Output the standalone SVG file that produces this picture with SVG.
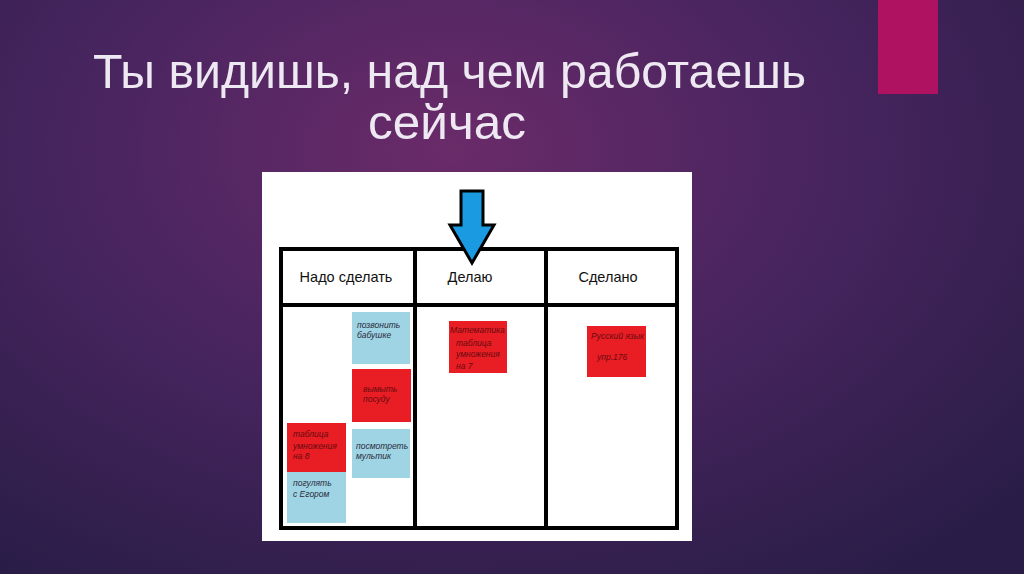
<svg xmlns="http://www.w3.org/2000/svg" width="1024" height="574" viewBox="0 0 1024 574">
<defs>
<radialGradient id="bg" cx="0.44" cy="0.26" r="0.75" gradientTransform="translate(0.44 0.26) scale(1 1.2) translate(-0.44 -0.26)">
<stop offset="0" stop-color="#6a2b69"/>
<stop offset="0.45" stop-color="#4a2560"/>
<stop offset="1" stop-color="#291d47"/>
</radialGradient>
<style>
.title{font-family:"Liberation Sans",Arial,sans-serif;font-size:48px;fill:#eee8f2}
.hdr{font-family:"Liberation Sans",Arial,sans-serif;font-size:14.5px;fill:#111;text-anchor:middle}
.note{font-family:"Liberation Sans",Arial,sans-serif;font-size:8.5px;font-style:italic;fill:#2a2a3a}
.rednote{font-family:"Liberation Sans",Arial,sans-serif;font-size:8.5px;font-style:italic;fill:#6a0a10}
.blue{fill:#9fd4e4}
.red{fill:#e81e24}
.line{stroke:#000;stroke-width:4;fill:none}
</style>
</defs>
<rect width="1024" height="574" fill="url(#bg)"/>
<rect x="878" y="0" width="60" height="94" fill="#ae1260"/>
<text class="title" x="93" y="88" textLength="713" lengthAdjust="spacingAndGlyphs">Ты видишь, над чем работаешь</text>
<text class="title" x="368" y="139" textLength="158" lengthAdjust="spacingAndGlyphs">сейчас</text>
<rect x="262" y="172" width="430" height="369" fill="#fff"/>
<g id="table">
<rect class="line" x="281" y="249" width="396" height="279" stroke-width="5"/>
<line class="line" x1="281" y1="305" x2="677" y2="305"/>
<line class="line" x1="415" y1="249" x2="415" y2="528"/>
<line class="line" x1="546" y1="249" x2="546" y2="528"/>
</g>
<g id="col-todo"><text class="hdr" x="346" y="282">Надо сделать</text></g>
<g id="col-doing"><text class="hdr" x="470" y="282">Делаю</text></g>
<g id="col-done"><text class="hdr" x="608" y="282">Сделано</text></g>
<g id="arrow">
<polygon points="461,191 483,191 483,225 494,225 472,263 450,225 461,225" fill="#1a9ae0" stroke="#000" stroke-width="3" stroke-linejoin="miter"/>
</g>
<g id="note-babushka">
<rect class="blue" x="352" y="312" width="58" height="52"/>
<text class="note" x="357" y="328">позвонить</text>
<text class="note" x="357" y="338">бабушке</text>
</g>
<g id="note-posuda">
<rect class="red" x="352" y="369" width="59" height="53"/>
<text class="rednote" x="363" y="392">вымыть</text>
<text class="rednote" x="363" y="402">посуду</text>
</g>
<g id="note-multik">
<rect class="blue" x="352" y="429" width="58" height="49"/>
<text class="note" x="356" y="449">посмотреть</text>
<text class="note" x="356" y="459">мультик</text>
</g>
<g id="note-table8">
<rect class="red" x="287" y="423" width="59" height="49"/>
<text class="rednote" x="293" y="437">таблица</text>
<text class="rednote" x="293" y="449">умножения</text>
<text class="rednote" x="293" y="459">на 8</text>
</g>
<g id="note-egor">
<rect class="blue" x="287" y="472" width="59" height="51"/>
<text class="note" x="293" y="486">погулять</text>
<text class="note" x="293" y="497">с Егором</text>
</g>
<g id="note-math">
<rect class="red" x="449" y="321" width="58" height="52"/>
<text class="rednote" x="450" y="333">Математика</text>
<text class="rednote" x="456" y="346">таблица</text>
<text class="rednote" x="456" y="357">умножения</text>
<text class="rednote" x="456" y="369">на 7</text>
</g>
<g id="note-russian">
<rect class="red" x="587" y="326" width="59" height="51"/>
<text class="rednote" x="591" y="339">Русский язык</text>
<text class="rednote" x="597" y="360">упр.176</text>
</g>
</svg>
